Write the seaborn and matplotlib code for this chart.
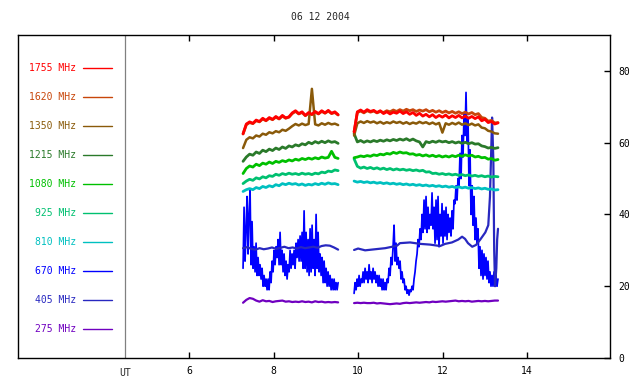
import numpy as np
import pandas as pd
import matplotlib
matplotlib.use("Agg")
import matplotlib.pyplot as plt
import seaborn as sns

# ---------------- data ----------------
title = "06 12 2004"
freqs = ["1755", "1620", "1350", "1215", "1080", "925", "810", "670", "405", "275"]
colors = ["#ff0000", "#c8460a", "#8a5a0a", "#2a7a2a", "#00c000",
          "#00c070", "#00c0c0", "#0000ff", "#2828c0", "#7000c0"]
legend_y = [80.8, 72.7, 64.6, 56.5, 48.4, 40.4, 32.3, 24.2, 16.1, 8.0]

seg1_start, seg1_end = 7.278, 9.527
seg2_start, seg2_end = 9.905, 13.31

s1755_a = [62.5, 65.2, 65.8, 65.4, 66.3, 65.9, 66.8, 66.2, 67.0, 66.5, 67.3, 66.7, 67.6, 66.9, 67.2,
           68.3, 68.9, 68.1, 68.6, 67.6, 68.4, 67.9, 68.7, 68.1, 68.9, 68.3, 69.0, 68.2, 68.6, 67.8]
s1755_b = [63.0, 68.6, 69.1, 68.5, 69.2, 68.7, 69.0, 68.4, 68.9, 68.1, 68.6, 68.0, 68.5, 68.2, 68.8,
           68.1, 68.6, 67.9, 68.4, 67.6, 68.2, 67.4, 67.9, 67.2, 67.8, 67.0, 67.6, 67.1, 67.7, 66.9,
           67.5, 67.0, 67.6, 66.9, 67.4, 66.8, 67.3, 66.7, 67.2, 66.1, 66.5, 65.6, 65.9, 65.2, 65.5]

s1620_a = [62.4, 65.0, 65.6, 65.3, 66.1, 65.8, 66.6, 66.1, 66.8, 66.4, 67.1, 66.6, 67.4, 66.8, 67.1,
           68.1, 68.7, 68.0, 68.4, 67.5, 68.2, 67.8, 68.5, 68.0, 68.7, 68.2, 68.8, 68.1, 68.4, 67.7]
s1620_b = [63.0, 68.4, 68.8, 68.3, 68.9, 68.5, 68.8, 68.3, 68.7, 68.4, 68.9, 68.6, 69.1, 68.7, 69.2,
           68.8, 69.3, 68.9, 69.2, 68.7, 69.1, 68.8, 69.2, 68.6, 69.0, 68.5, 68.9, 68.4, 68.8, 68.3,
           68.7, 68.2, 68.6, 68.1, 68.5, 68.0, 68.4, 67.8, 68.1, 67.0, 66.8, 66.0, 66.2, 65.5, 65.6]

s1350_a = [58.5, 60.8, 61.5, 61.2, 62.0, 61.7, 62.5, 62.2, 62.9, 62.6, 63.2, 62.9, 63.6, 63.3, 63.9,
           64.6, 65.2, 64.8, 65.3, 64.9, 65.2, 75.0, 65.1, 64.8, 65.4, 65.0, 65.5, 65.1, 65.3, 64.9]
s1350_b = [62.0, 65.4, 65.9, 65.5, 66.0, 65.6, 65.9, 65.4, 65.8, 65.3, 65.7, 65.4, 65.9, 65.5, 65.8,
           65.3, 65.7, 65.2, 65.6, 65.3, 65.8, 65.4, 65.7, 65.2, 65.6, 65.1, 65.5, 62.8, 65.4, 65.0,
           65.5, 65.1, 65.6, 65.0, 65.4, 64.9, 65.3, 64.8, 65.1, 64.2, 64.0, 63.3, 63.1, 62.6, 62.5]

s1215_a = [54.8, 56.0, 56.8, 56.5, 57.4, 57.0, 57.9, 57.5, 58.2, 57.8, 58.5, 58.1, 58.8, 58.4, 59.1,
           58.8, 59.4, 59.1, 59.7, 59.4, 60.1, 59.7, 60.3, 59.9, 60.4, 60.0, 60.5, 60.1, 60.3, 59.8]
s1215_b = [62.5, 60.2, 60.6, 60.1, 60.5, 60.2, 60.6, 60.3, 60.7, 60.4, 60.8, 60.5, 60.9, 60.6, 61.0,
           60.7, 61.1, 60.6, 61.0, 60.5, 60.2, 58.8, 60.3, 60.0, 60.4, 60.1, 60.5, 60.2, 60.4, 60.0,
           60.3, 59.9, 60.2, 59.8, 60.1, 59.7, 60.0, 59.6, 59.7, 59.1, 58.9, 58.5, 58.7, 58.4, 58.6]

s1080_a = [51.4, 52.8, 53.5, 53.2, 54.0, 53.6, 54.3, 54.0, 54.6, 54.2, 54.8, 54.5, 55.0, 54.7, 55.2,
           54.9, 55.4, 55.1, 55.6, 55.3, 55.7, 55.4, 55.8, 55.5, 56.0, 55.7, 55.9, 57.6, 55.9, 55.6]
s1080_b = [55.8, 56.0, 56.3, 56.1, 56.4, 56.2, 56.6, 56.4, 56.8, 56.6, 57.0, 56.8, 57.3, 57.0, 57.4,
           57.1, 57.2, 56.8, 56.9, 56.5, 56.7, 56.3, 56.6, 56.2, 56.5, 56.1, 56.4, 56.0, 56.3, 56.0,
           56.4, 56.1, 56.5, 56.2, 56.6, 56.3, 56.5, 56.0, 56.2, 55.8, 55.9, 55.4, 55.6, 55.1, 55.3]

s925_a = [48.6, 49.3, 49.8, 49.5, 50.2, 49.9, 50.5, 50.2, 50.8, 50.6, 51.2, 50.9, 51.4, 51.1, 51.5,
          51.2, 51.4, 51.1, 51.5, 51.2, 51.4, 51.1, 51.5, 51.3, 51.8, 51.6, 52.1, 51.9, 52.4, 52.2]
s925_b = [55.5, 53.4, 52.9, 53.2, 52.8, 53.1, 52.7, 53.0, 52.6, 52.9, 52.5, 52.8, 52.4, 52.7, 52.4,
          52.6, 52.3, 52.5, 52.2, 52.4, 52.1, 52.3, 51.8, 51.9, 51.4, 51.5, 51.2, 51.4, 51.1, 51.3,
          51.0, 51.2, 50.9, 51.1, 50.8, 51.0, 50.7, 50.9, 50.6, 50.8, 50.5, 50.7, 50.4, 50.6, 50.5]

s810_a = [46.4, 46.9, 47.2, 46.9, 47.5, 47.2, 47.8, 47.5, 48.0, 47.7, 48.3, 48.0, 48.6, 48.3, 48.7,
          48.4, 48.6, 48.2, 48.5, 48.1, 48.4, 48.2, 48.6, 48.3, 48.7, 48.4, 48.8, 48.5, 48.6, 48.3]
s810_b = [49.3, 49.0, 49.2, 48.9, 49.1, 48.8, 49.0, 48.7, 48.9, 48.6, 48.8, 48.5, 48.7, 48.4, 48.6,
          48.3, 48.5, 48.2, 48.4, 48.1, 48.3, 48.0, 48.2, 47.9, 48.1, 47.8, 48.0, 47.7, 47.9, 47.6,
          47.8, 47.5, 47.7, 47.4, 47.6, 47.3, 47.5, 47.2, 47.4, 47.1, 47.3, 47.0, 47.1, 46.8, 46.9]

s670_a = [25, 42, 27, 36, 45, 29, 40, 47, 26, 38, 25, 31, 24, 32, 23, 28, 23, 26, 22, 25,
          20, 23, 20, 22, 19, 22, 19, 24, 21, 27, 24, 30, 26, 31, 28, 33, 26, 35, 26, 30,
          24, 29, 23, 27, 22, 26, 24, 30, 25, 29, 26, 30, 25, 32, 28, 33, 27, 34, 27, 35,
          25, 41, 25, 35, 24, 33, 23, 36, 24, 37, 25, 33, 23, 40, 25, 35, 24, 29, 23, 28,
          21, 27, 21, 25, 20, 24, 20, 23, 19, 22, 19, 22, 19, 21, 19, 21]
s670_b = [18, 21, 19, 22, 20, 23, 20, 22, 21, 24, 21, 25, 22, 24, 21, 26, 22, 24, 21, 25,
          22, 24, 21, 23, 20, 23, 20, 22, 19, 22, 19, 21, 19, 22, 21, 25, 23, 28, 26, 31,
          37, 27, 32, 26, 28, 25, 27, 22, 24, 21, 22, 19, 20, 18, 19, 17.5, 19, 18.5, 20, 19,
          22, 24, 27, 29, 33, 31, 36, 33, 40, 35, 44, 36, 45, 35, 42, 36, 40, 37, 46, 36,
          42, 32, 44, 33, 45, 31, 40, 34, 43, 32, 41, 34, 42, 33, 40, 35, 39, 34, 41, 36,
          44, 43, 48, 44, 50, 48, 57, 50, 62, 56, 68, 62, 74, 60, 67, 48, 58, 40, 48, 37,
          45, 33, 39, 32, 36, 25, 31, 23, 30, 22, 29, 23, 28, 22, 27, 21, 24, 20, 23, 20,
          24, 21, 23, 20, 22]

s405_a = [30.6, 30.9, 30.4, 30.2, 30.6, 30.3, 30.5, 30.8, 30.4, 30.7, 31.0, 30.6, 30.8, 30.5, 30.9,
          30.6, 30.8, 31.0, 30.7, 31.2, 31.4, 31.3, 30.8, 30.2]
t405_b = [9.905, 10.0, 10.166, 10.40, 10.64, 10.805, 10.92, 10.99, 11.23, 11.47, 11.70, 11.94,
          12.06, 12.22, 12.37, 12.46, 12.53, 12.60, 12.70, 12.79, 12.89, 13.01, 13.08, 13.12,
          13.15, 13.17, 13.20, 13.22, 13.24, 13.27, 13.29, 13.31]
s405_b = [30.1, 30.5, 30.0, 30.3, 30.6, 31.0, 31.3, 32.0, 32.2, 31.8, 31.6, 31.2,
          31.8, 32.2, 33.0, 33.8, 33.2, 32.0, 31.0, 31.5, 33.0, 35.0, 37.0, 45.0,
          58.0, 67.0, 55.0, 30.0, 20.0, 25.0, 33.0, 36.0]

s275_a = [15.4, 16.2, 16.7, 16.5, 16.0, 15.7, 16.1, 15.8, 15.9, 15.6, 15.8, 15.9, 16.0, 15.7, 15.8,
          15.6, 15.7, 15.6, 15.8, 15.6, 15.7, 15.5, 15.8, 15.6, 15.7, 15.5, 15.6, 15.5, 15.6, 15.5]
s275_b = [15.3, 15.4, 15.3, 15.4, 15.3, 15.3, 15.4, 15.2, 15.3, 15.2, 15.1, 15.0, 15.1, 15.2, 15.1,
          15.3, 15.4, 15.3, 15.4, 15.5, 15.4, 15.5, 15.6, 15.5, 15.7, 15.6, 15.7, 15.8, 15.7, 15.8,
          15.9, 16.0, 15.8, 15.9, 15.8, 15.9, 15.7, 15.8, 15.9, 15.8, 15.9, 15.8, 15.9, 16.0, 16.0]

x_ticks = [6, 8, 10, 12, 14]
y_ticks = [0, 20, 40, 60, 80]
ut_pos = 4.485

# ---------------- plot ----------------
sns.set_theme(style="white")
plt.rcParams["font.family"] = ["DejaVu Sans Mono", "DejaVu Sans"]

fig = plt.figure(figsize=(6.4, 3.84), dpi=100)
ax = fig.add_axes([18 / 640, 26 / 384, 592 / 640, 323 / 384])


def draw(vals, t0, t1, color, lw=1.3, times=None):
    v = np.asarray(vals, dtype=float)
    t = np.linspace(t0, t1, len(v)) if times is None else np.asarray(times)
    df = pd.DataFrame({"t": t, "v": v})
    sns.lineplot(data=df, x="t", y="v", color=color, lw=lw, ax=ax,
                 estimator=None, sort=False)


cmap = dict(zip(freqs, colors))
draw(s670_a, seg1_start, seg1_end, cmap["670"], lw=1.25)
draw(s670_b, seg2_start, seg2_end, cmap["670"], lw=1.25)
draw(s405_a, seg1_start, seg1_end, cmap["405"], lw=1.6)
draw(s405_b, None, None, cmap["405"], lw=1.6, times=t405_b)
draw(s275_a, seg1_start, seg1_end, cmap["275"], lw=1.6)
draw(s275_b, seg2_start, seg2_end, cmap["275"], lw=1.6)
for key, a, b in [("810", s810_a, s810_b), ("925", s925_a, s925_b),
                  ("1080", s1080_a, s1080_b), ("1215", s1215_a, s1215_b),
                  ("1350", s1350_a, s1350_b), ("1620", s1620_a, s1620_b),
                  ("1755", s1755_a, s1755_b)]:
    lw = 1.8 if key == "1350" else 2.0
    draw(a, seg1_start, seg1_end, cmap[key], lw=lw)
    draw(b, seg2_start, seg2_end, cmap[key], lw=lw)

# legend panel
for f, c, y in zip(freqs, colors, legend_y):
    ax.text(3.33, y, f"{f} MHz", color=c, fontsize=7, ha="right", va="center")
    ax.plot([3.49, 4.18], [y, y], color=c, lw=1.0)

ax.axvline(ut_pos, color="#808080", lw=0.9)

ax.set_xlim(1.953, 15.96)
ax.set_ylim(0, 90)
ax.set_xlabel("")
ax.set_ylabel("")

ax.set_xticks(x_ticks)
ax.set_xticklabels([str(x) for x in x_ticks], fontsize=7)
ax.yaxis.tick_right()
ax.set_yticks(y_ticks)
ax.set_yticklabels([str(y) for y in y_ticks], fontsize=7)
ax.tick_params(axis="x", which="both", direction="in", length=4, width=1,
               top=True, bottom=True, pad=6, colors="black")
ax.tick_params(axis="y", which="both", direction="in", length=4, width=1,
               right=True, left=False, pad=6, colors="black")
ax.text(ut_pos, -4.2, "UT", fontsize=7, ha="center", va="center")

for s in ax.spines.values():
    s.set_visible(True)
    s.set_color("black")
    s.set_linewidth(1.0)

fig.text(0.5, 1 - 17 / 384, title, fontsize=7, ha="center", va="center")

fig.savefig("out.png", dpi=100, facecolor="white")
